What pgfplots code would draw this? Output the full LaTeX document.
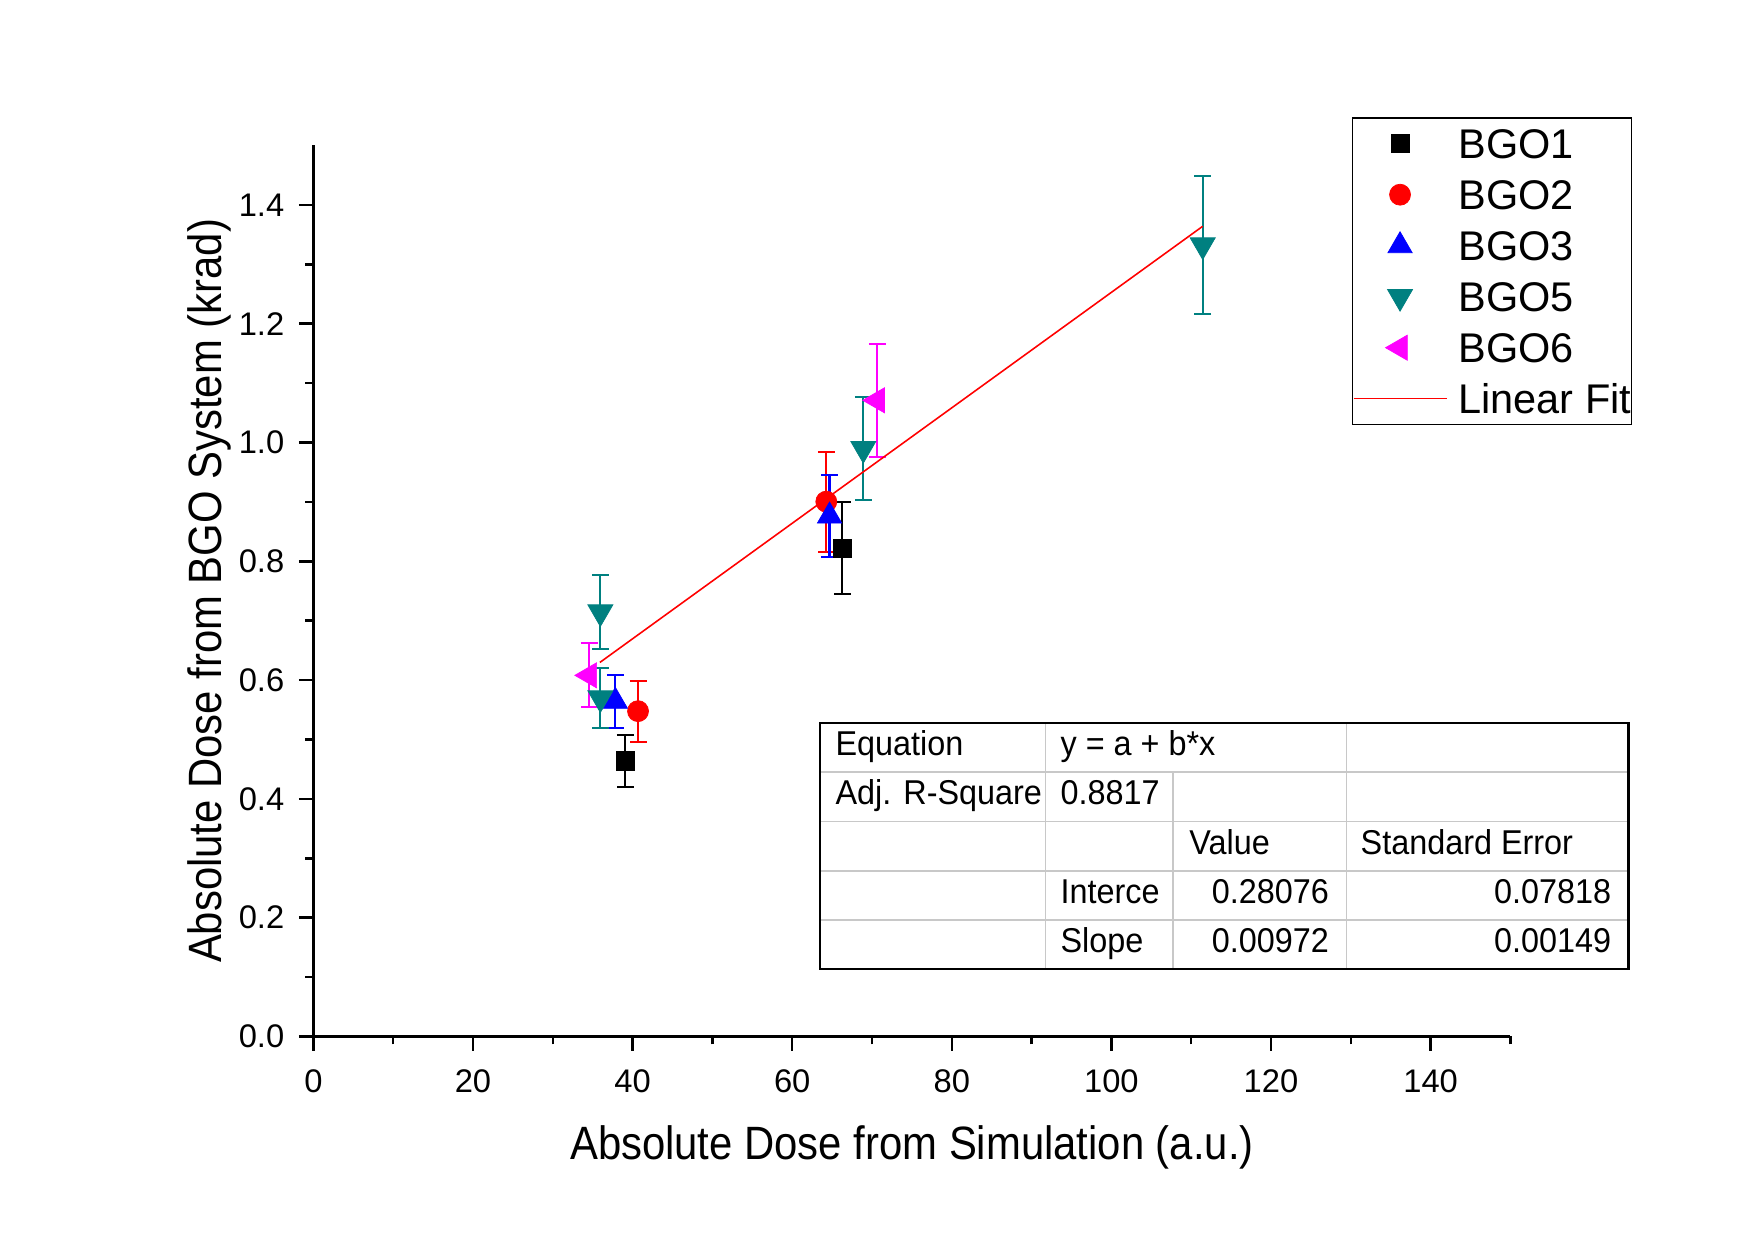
\documentclass[border=0pt]{standalone}
\usepackage{pgfplots}
\pgfplotsset{compat=1.18}
\usepackage{fontspec}
\setmainfont{Liberation Sans}
\newfontfamily\labelfont{Liberation Sans}[FakeStretch=0.895]
\newfontfamily\tablefont{Liberation Sans}[FakeStretch=0.94]

\definecolor{bgoteal}{RGB}{0,128,128}
\definecolor{bgomag}{RGB}{255,0,255}
\definecolor{cellrule}{RGB}{200,200,200}

\begin{document}
\begin{tikzpicture}
\path[use as bounding box] (0mm,0mm) rectangle (175.5mm,124.2mm);
\begin{axis}[
  at={(31.34mm,20.55mm)}, anchor=south west,
  width=119.7mm, height=89.1mm, scale only axis,
  xmin=0, xmax=150, ymin=0, ymax=1.5,
  axis lines=left,
  axis line style={-, line width=0.7pt, black},
  xtick pos=bottom, ytick pos=left,
  xtick={0,20,...,140}, minor xtick={10,30,...,150},
  ytick={0,0.2,...,1.4}, minor ytick={0.1,0.3,...,1.3},
  tick align=outside,
  major tick length=1.45mm, minor tick length=0.8mm,
  tick style={line width=0.7pt, black},
  /pgf/number format/assume math mode=true,
  tick label style={font=\fontsize{9.3}{11}\selectfont},
  yticklabel style={/pgf/number format/fixed, /pgf/number format/fixed zerofill,
    /pgf/number format/precision=1, anchor=east, inner sep=0pt, xshift=-1.4mm},
  xticklabel style={anchor=north, inner sep=0pt, yshift=-1.8mm},
  xlabel={Absolute Dose from Simulation (a.u.)},
  ylabel={Absolute Dose from BGO System (krad)},
  label style={font=\labelfont\fontsize{13.3}{15}\selectfont},
  xlabel style={at={(axis description cs:0.5,0)}, anchor=base, yshift=-12.3mm, inner sep=0pt},
  ylabel style={at={(axis description cs:0,0.5)}, anchor=base, yshift=9.18mm, inner sep=0pt},
  legend cell align=left,
  legend style={at={(axis description cs:0.8677,1.0314)}, anchor=north west,
    draw=black, inner sep=0pt, row sep=0pt, column sep=1.1mm,
    font=\fontsize{11.8}{14}\selectfont,
    nodes={inner sep=0pt, text height=4.0mm, text depth=1.1mm}},
  legend image code/.code={\draw[mark repeat=2,mark phase=2,#1]
    plot coordinates {(0mm,0mm) (4.65mm,0mm) (9.3mm,0mm)};},
]

\addplot[only marks, black, mark=square*, mark size=0.915mm,
  mark options={solid, line width=0.2pt},
  error bars/.cd, y dir=both, y explicit,
  error bar style={line width=0.6pt, black},
  error mark options={rotate=90, mark size=0.85mm, line width=0.6pt, black}]
  coordinates {(39.09,0.4641) +- (0,0.0435) (66.27,0.8218) +- (0,0.0774)};
\addlegendentry{BGO1}

\addplot[only marks, red, mark=*, mark size=1.05mm,
  mark options={solid, line width=0.2pt},
  error bars/.cd, y dir=both, y explicit,
  error bar style={line width=0.6pt, red},
  error mark options={rotate=90, mark size=0.85mm, line width=0.6pt, red}]
  coordinates {(40.68,0.5477) +- (0,0.0514) (64.27,0.9004) +- (0,0.0842)};
\addlegendentry{BGO2}

\addplot[only marks, blue, mark=triangle*, mark size=1.4mm,
  mark options={solid, line width=0.2pt},
  error bars/.cd, y dir=both, y explicit,
  error bar style={line width=0.6pt, blue},
  error mark options={rotate=90, mark size=0.85mm, line width=0.6pt, blue}]
  coordinates {(37.84,0.5642) +- (0,0.0443) (64.68,0.8762) +- (0,0.0690)};
\addlegendentry{BGO3}

\addplot[only marks, bgoteal, mark=triangle*, mark size=1.45mm,
  mark options={solid, rotate=180, line width=0.2pt},
  error bars/.cd, y dir=both, y explicit,
  error bar style={line width=0.6pt, bgoteal},
  error mark options={rotate=90, mark size=0.85mm, line width=0.6pt, bgoteal}]
  coordinates {(35.96,0.7146) +- (0,0.0623) (35.96,0.5698) +- (0,0.0500)
               (68.91,0.9896) +- (0,0.0864) (111.44,1.3324) +- (0,0.1162)};
\addlegendentry{BGO5}

\addplot[only marks, bgomag, mark=triangle*, mark size=1.45mm,
  mark options={solid, rotate=90, line width=0.2pt},
  error bars/.cd, y dir=both, y explicit,
  error bar style={line width=0.6pt, bgomag},
  error mark options={rotate=90, mark size=0.85mm, line width=0.6pt, bgomag}]
  coordinates {(34.58,0.6080) +- (0,0.0539) (70.66,1.0710) +- (0,0.0949)};
\addlegendentry{BGO6}

% y = 0.28076 + 0.00972 x, evaluated at the ends of the fitted range
\addplot[red, line width=0.45pt, no markers]
  coordinates {(35.90,0.62971) (111.44,1.36396)};
\addlegendentry{Linear Fit}
\end{axis}

% fit summary table
\begin{scope}[x=1mm, y=1mm,
  cell/.style={inner sep=0pt, font=\tablefont\fontsize{9.8}{11}\selectfont}]
  \draw[cellrule, line width=0.5pt]
    (82.04,46.97) -- (162.85,46.97)
    (82.04,42.04) -- (162.85,42.04)
    (82.04,37.12) -- (162.85,37.12)
    (82.04,32.19) -- (162.85,32.19)
    (104.54,51.9) -- (104.54,27.27)
    (117.30,46.97) -- (117.30,27.27)
    (134.65,51.9) -- (134.65,27.27);
  \draw[black, line width=0.6pt] (82.04,27.27) rectangle (162.85,51.9);
  \node[cell, anchor=base west] at (83.49,48.65) {Equation};
  \node[cell, anchor=base west] at (105.99,48.65) {y = a + b*x};
  \node[cell, anchor=base west] at (83.49,43.72) {Adj. R-Square};
  \node[cell, anchor=base west] at (105.99,43.72) {0.8817};
  \node[cell, anchor=base west] at (118.87,38.79) {Value};
  \node[cell, anchor=base west] at (136.00,38.79) {Standard Error};
  \node[cell, anchor=base west] at (105.99,33.87) {Interce};
  \node[cell, anchor=base east] at (132.97,33.87) {0.28076};
  \node[cell, anchor=base east] at (161.18,33.87) {0.07818};
  \node[cell, anchor=base west] at (105.99,28.94) {Slope};
  \node[cell, anchor=base east] at (132.97,28.94) {0.00972};
  \node[cell, anchor=base east] at (161.18,28.94) {0.00149};
\end{scope}
\end{tikzpicture}
\end{document}
